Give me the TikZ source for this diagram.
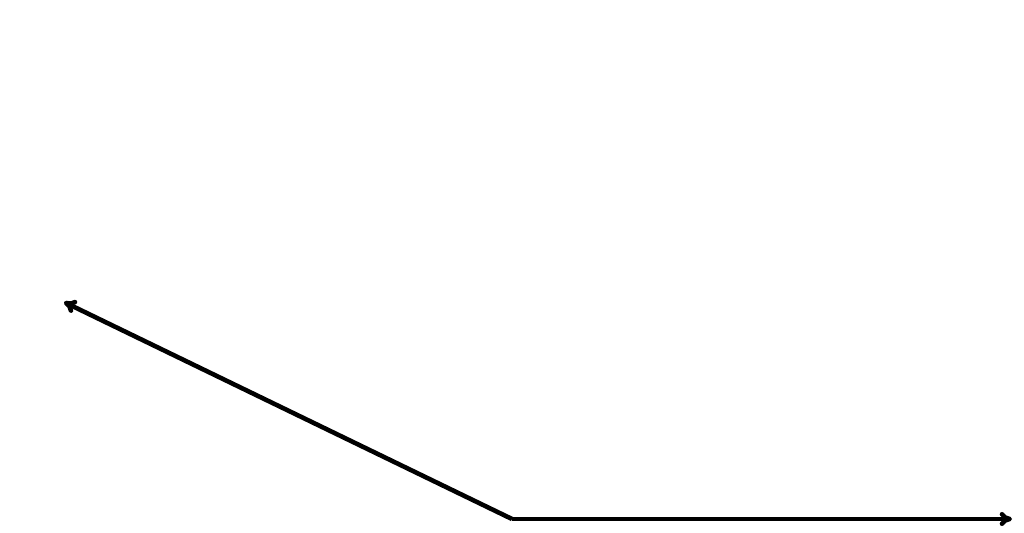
\documentclass[tikz,border=0pt]{standalone}
\usetikzlibrary{arrows.meta}
\begin{document}
\begin{tikzpicture}[x=0.02cm,y=-0.02cm,
  axis/.style={line width=2.6pt,-{To[length=7pt,width=8pt]}}]
\useasboundingbox (0,0) rectangle (1024,533);
\coordinate (o) at (512,519);
\coordinate (l) at (64,302);
\coordinate (r) at (1012,519);
\draw[axis] (o) -- (l);
\draw[axis] (o) -- (r);
\end{tikzpicture}
\end{document}
